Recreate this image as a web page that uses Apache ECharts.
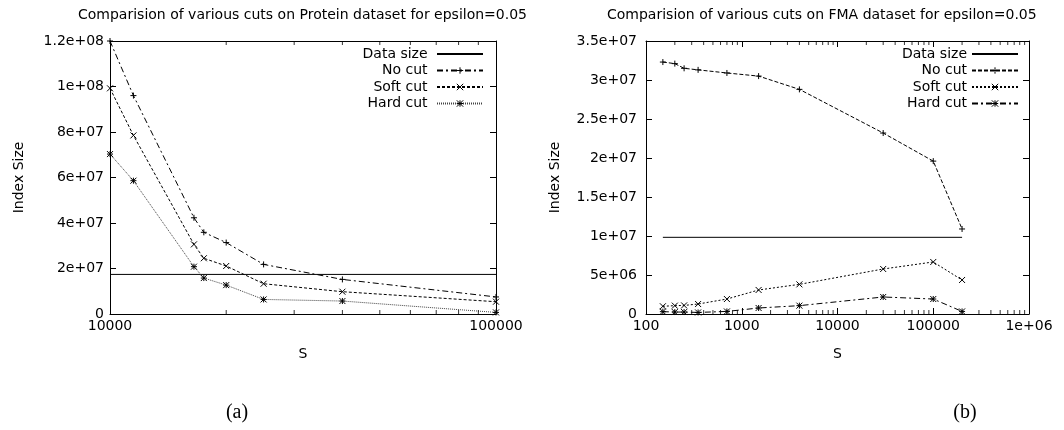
<!DOCTYPE html>
<html>
<head>
<meta charset="utf-8">
<script src="https://cdn.jsdelivr.net/npm/echarts@6/dist/echarts.min.js"></script>
<style>
  html, body { margin: 0; padding: 0; background: #fff; }
  #chart { width: 1064px; height: 430px; }
</style>
</head>
<body>
<div id="chart"></div>
<script>
// ---- (a) Protein dataset ----
const sLeft = [10000, 11500, 16500, 17500, 20000, 25000, 40000, 100000];
const noCutLeft = [1.2e8, 9.6e7, 4.23e7, 3.59e7, 3.14e7, 2.18e7, 1.52e7, 7.5e6];
const softCutLeft = [9.92e7, 7.85e7, 3.06e7, 2.45e7, 2.11e7, 1.33e7, 9.8e6, 5.4e6];
const hardCutLeft = [7.03e7, 5.86e7, 2.08e7, 1.58e7, 1.27e7, 6.4e6, 5.7e6, 7e5];
const dataSizeLeft = 1.74e7;

// ---- (b) FMA dataset ----
const sRight = [150, 200, 250, 350, 700, 1500, 4000, 30000, 100000, 200000];
const noCutRight = [3.23e7, 3.21e7, 3.15e7, 3.13e7, 3.09e7, 3.05e7, 2.88e7, 2.32e7, 1.96e7, 1.09e7];
const softCutRight = [9.9e5, 1.07e6, 1.1e6, 1.28e6, 1.92e6, 3.08e6, 3.8e6, 5.77e6, 6.67e6, 4.36e6];
const hardCutRight = [3e5, 2.5e5, 2.5e5, 2e5, 3.3e5, 7.7e5, 1.07e6, 2.18e6, 1.92e6, 3.3e5];
const dataSizeRight = 9.83e6;

// axis ranges / ticks
const xRangeLeft = [10000, 100000];
const xRangeRight = [100, 1000000];
const yMaxLeft = 1.2e8, yStepLeft = 2e7;
const yMaxRight = 3.5e7, yStepRight = 5e6;
const minorMults = [2, 3, 4, 5, 6, 7, 8, 9];
const decadesLeft = [10000];
const decadesRight = [100, 1000, 10000, 100000];

const FONT = 'DejaVu Sans';

// gnuplot-like %g
function gfmt(v) {
  if (v === 0) return '0';
  const exp = Math.floor(Math.log10(Math.abs(v)) + 1e-9);
  if (exp < -4 || exp >= 6) {
    const m = parseFloat((v / Math.pow(10, exp)).toPrecision(6));
    const e = Math.abs(exp);
    return m + 'e' + (exp < 0 ? '-' : '+') + (e < 10 ? '0' + e : e);
  }
  return String(parseFloat(v.toPrecision(6)));
}

const minorLeft = decadesLeft.flatMap((d) => minorMults.map((m) => m * d));
const minorRight = decadesRight.flatMap((d) => minorMults.map((m) => m * d));

const plus = 'path://M0,5L10,5M5,0L5,10';
const cross = 'path://M0,0L10,10M0,10L10,0';
const star = 'path://M0,5L10,5M5,0L5,10M0,0L10,10M0,10L10,0';

function pts(xs, ys) {
  return xs.map((x, i) => [x, ys[i]]);
}

function lineSeries(name, xs, ys, ax, symbol, dash, color) {
  return {
    name: name,
    type: 'line',
    xAxisIndex: ax,
    yAxisIndex: ax,
    data: pts(xs, ys),
    symbol: symbol,
    symbolSize: 6,
    showSymbol: true,
    lineStyle: { color: color || '#000', width: 1, type: dash },
    itemStyle: { color: '#000', borderColor: '#000', borderWidth: 1 },
    z: 3,
  };
}

function dataSizeSeries(name, xs, y, ax) {
  return {
    name: name,
    type: 'line',
    xAxisIndex: ax,
    yAxisIndex: ax,
    data: [[xs[0], y], [xs[xs.length - 1], y]],
    symbol: 'circle',
    showSymbol: false,
    lineStyle: { color: '#000', width: 1, type: 'solid' },
    itemStyle: { color: 'transparent', borderColor: 'transparent', borderWidth: 0 },
    z: 2,
  };
}

function tickSeries(vals, y, ax, dir) {
  return {
    type: 'scatter',
    xAxisIndex: ax,
    yAxisIndex: ax,
    data: vals.map((v) => [v, y]),
    symbol: 'rect',
    symbolSize: [1, 4],
    symbolOffset: [0, dir * 2],
    itemStyle: { color: '#000' },
    silent: true,
    clip: false,
    z: 4,
  };
}

function xAxes(range, grid) {
  const common = {
    type: 'log',
    logBase: 10,
    gridIndex: grid,
    min: range[0],
    max: range[1],
    splitLine: { show: false },
    axisLine: { show: true, onZero: false, lineStyle: { color: '#000', width: 1 } },
    axisTick: { show: true, inside: true, length: 6, lineStyle: { color: '#000' } },
  };
  return [
    Object.assign({}, common, {
      position: 'bottom',
      name: 'S',
      nameLocation: 'middle',
      nameGap: 33,
      nameTextStyle: { fontFamily: FONT, fontSize: 14, color: '#000' },
      axisLabel: { fontFamily: FONT, fontSize: 14, color: '#000', margin: 5, formatter: gfmt, showMinLabel: true, showMaxLabel: true },
    }),
    Object.assign({}, common, { position: 'top', axisLabel: { show: false } }),
  ];
}

function yAxes(max, step, grid, margin) {
  const common = {
    type: 'value',
    gridIndex: grid,
    min: 0,
    max: max,
    interval: step,
    splitLine: { show: false },
    axisLine: { show: true, onZero: false, lineStyle: { color: '#000', width: 1 } },
    axisTick: { show: true, inside: true, length: 6, lineStyle: { color: '#000' } },
  };
  return [
    Object.assign({}, common, {
      position: 'left',
      name: 'Index Size',
      nameLocation: 'middle',
      nameGap: 84,
      nameTextStyle: { fontFamily: FONT, fontSize: 14, color: '#000' },
      axisLabel: { fontFamily: FONT, fontSize: 14, color: '#000', margin: margin, formatter: gfmt },
    }),
    Object.assign({}, common, { position: 'right', axisLabel: { show: false } }),
  ];
}

function legend(names, right, trail) {
  return {
    data: names,
    orient: 'vertical',
    right: right,
    top: 47,
    align: 'right',
    itemWidth: 46,
    itemHeight: 8,
    itemGap: 2.5,
    padding: 0,
    selectedMode: false,
    itemStyle: { borderWidth: 1 },
    textStyle: { fontFamily: FONT, fontSize: 14, color: '#000' },
    formatter: (n) => n.trim() + trail,
  };
}

const chart = echarts.init(document.getElementById('chart'), null, { renderer: 'canvas' });

const namesL = ['Data size', 'No cut', 'Soft cut', 'Hard cut'];
const namesR = namesL.map((n) => n + ' ');

const option = {
  animation: false,
  backgroundColor: '#fff',
  grid: [
    { left: 110, top: 41, width: 386, height: 273 },
    { left: 646, top: 41, width: 383, height: 273 },
  ],
  xAxis: [].concat(xAxes(xRangeLeft, 0), xAxes(xRangeRight, 1)),
  yAxis: [].concat(yAxes(yMaxLeft, yStepLeft, 0, 6), yAxes(yMaxRight, yStepRight, 1, 9)),
  legend: [legend(namesL, 1064 - 484, ' '), legend(namesR, 1064 - 1019, '')],
  series: [
    dataSizeSeries(namesL[0], sLeft, dataSizeLeft, 0),
    lineSeries(namesL[1], sLeft, noCutLeft, 0, plus, [6, 3, 2, 3]),
    lineSeries(namesL[2], sLeft, softCutLeft, 0, cross, [3, 2]),
    lineSeries(namesL[3], sLeft, hardCutLeft, 0, star, [1, 1], '#444'),
    tickSeries(minorLeft, 0, 0, -1),
    tickSeries(minorLeft, yMaxLeft, 0, 1),

    dataSizeSeries(namesR[0], sRight, dataSizeRight, 2),
    lineSeries(namesR[1], sRight, noCutRight, 2, plus, [4, 2]),
    lineSeries(namesR[2], sRight, softCutRight, 2, cross, [2, 2]),
    lineSeries(namesR[3], sRight, hardCutRight, 2, star, [6, 3, 2, 3]),
    tickSeries(minorRight, 0, 2, -1),
    tickSeries(minorRight, yMaxRight, 2, 1),
  ],
  graphic: [
    { type: 'text', x: 78, y: 15, style: { text: 'Comparision of various cuts on Protein dataset for epsilon=0.05', font: '14px "DejaVu Sans"', fill: '#000', verticalAlign: 'middle' } },
    { type: 'text', x: 607, y: 15, style: { text: 'Comparision of various cuts on FMA dataset for epsilon=0.05', font: '14px "DejaVu Sans"', fill: '#000', verticalAlign: 'middle' } },
    { type: 'text', x: 237, y: 413, style: { text: '(a)', font: '20px "Liberation Serif"', fill: '#000', align: 'center', verticalAlign: 'middle' } },
    { type: 'text', x: 965, y: 413, style: { text: '(b)', font: '20px "Liberation Serif"', fill: '#000', align: 'center', verticalAlign: 'middle' } },
  ],
};

chart.setOption(option);
</script>
</body>
</html>
